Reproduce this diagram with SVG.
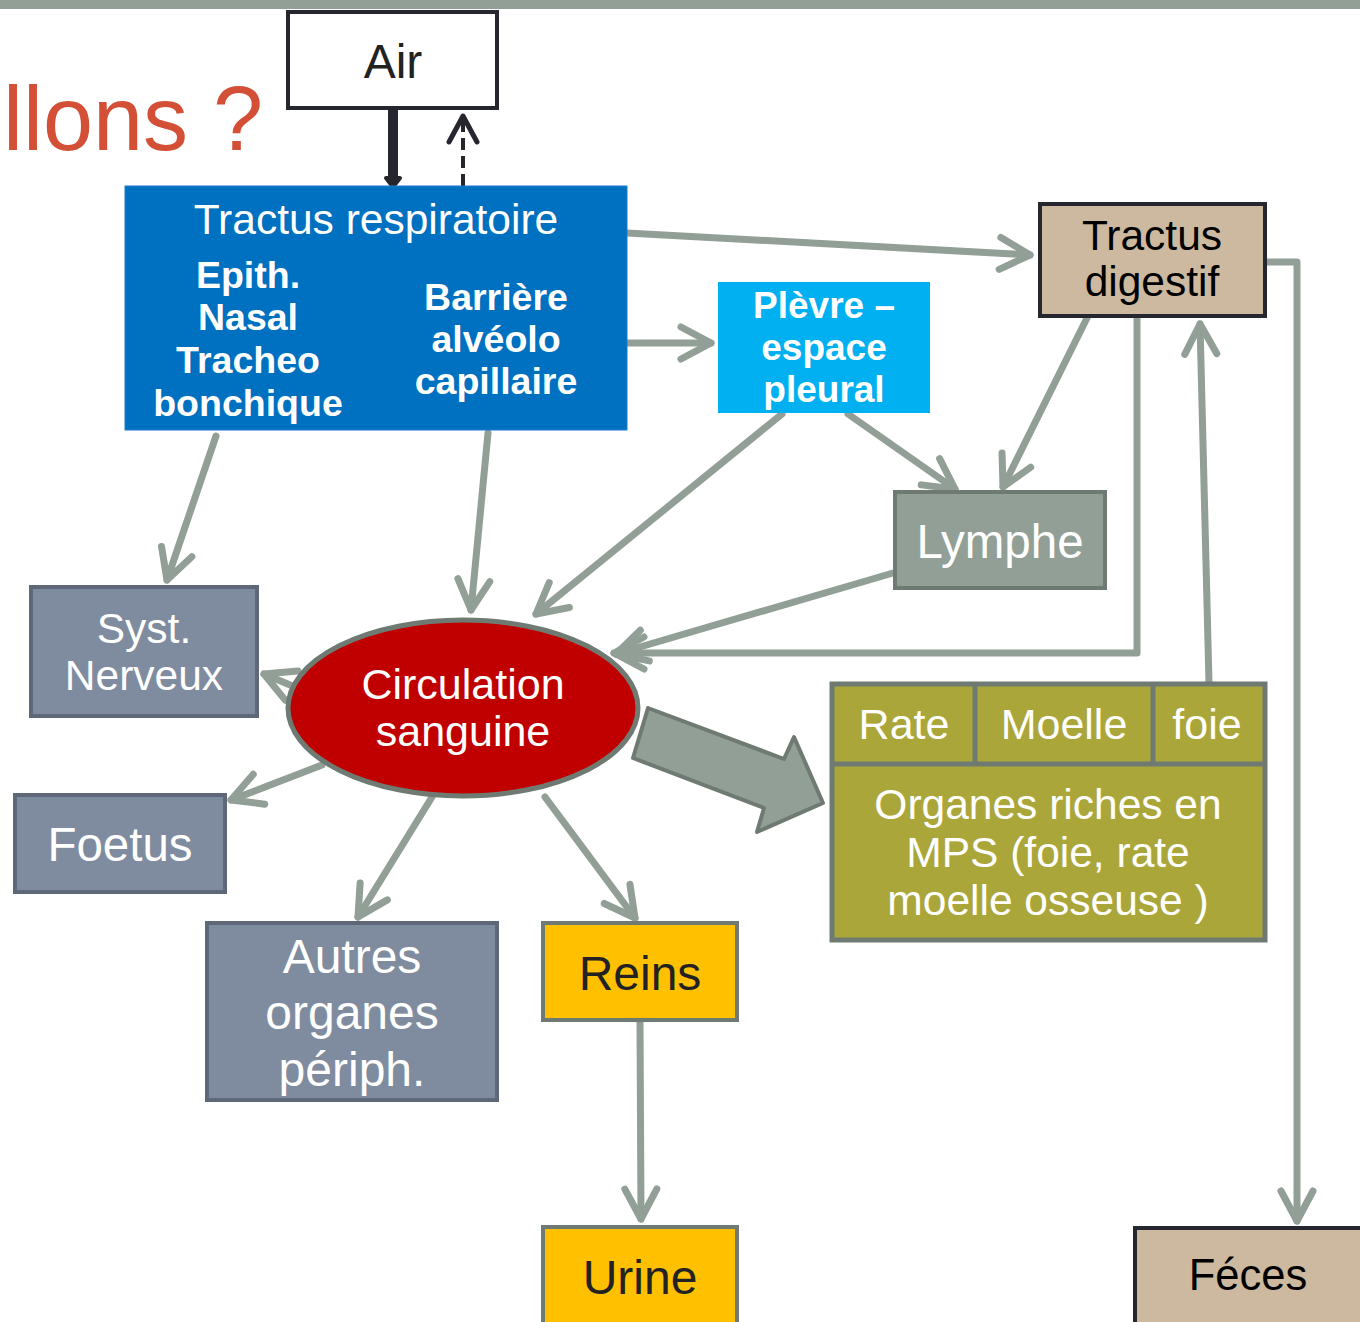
<svg xmlns="http://www.w3.org/2000/svg" width="1360" height="1322" viewBox="0 0 1360 1322">
<style>
text{font-family:"Liberation Sans",Arial,sans-serif;text-anchor:middle}
.w{fill:#fff}
.k{fill:#000}
.d{fill:#222}
.b{font-weight:bold}
.con{fill:none;stroke:#919F96;stroke-width:7;stroke-linecap:round;stroke-linejoin:round}
.gbox{stroke:#5F6878;stroke-width:4}
</style>
<defs>
<marker id="ah" markerUnits="userSpaceOnUse" markerWidth="60" markerHeight="60" refX="0" refY="0" viewBox="-40 -30 60 60" orient="auto" overflow="visible">
<path d="M-30,-16 L0,0 L-30,16" fill="none" stroke="#919F96" stroke-width="7" stroke-linecap="round" stroke-linejoin="round"/>
</marker>
<marker id="ahk" markerUnits="userSpaceOnUse" markerWidth="60" markerHeight="60" refX="0" refY="0" viewBox="-40 -30 60 60" orient="auto" overflow="visible">
<path d="M-26,-14 L0,0 L-26,14" fill="none" stroke="#26262e" stroke-width="5" stroke-linecap="round" stroke-linejoin="round"/>
</marker>
</defs>
<rect x="0" y="0" width="1360" height="9" fill="#919F96"/>
<text x="3" y="150" font-size="90" fill="#D35037" style="text-anchor:start">llons ?</text>

<g id="connectors">
<path class="con" d="M627,233 L1030,255" marker-end="url(#ah)"/>
<path class="con" d="M627,343 L711,343" marker-end="url(#ah)"/>
<path class="con" d="M216,436 L167,580" marker-end="url(#ah)"/>
<path class="con" d="M488,433 L471,610" marker-end="url(#ah)"/>
<path class="con" d="M782,414 L536,614" marker-end="url(#ah)"/>
<path class="con" d="M848,414 L955,489" marker-end="url(#ah)"/>
<path class="con" d="M1087,318 L1003,487" marker-end="url(#ah)"/>
<path class="con" d="M1137,300 L1137,653 L614,653" marker-end="url(#ah)"/>
<path class="con" d="M893,573 L616,654" marker-end="url(#ah)"/>
<path class="con" d="M1209,683 L1200,324" marker-end="url(#ah)"/>
<path class="con" d="M1266,262 L1297,262 L1297,1221" marker-end="url(#ah)"/>
<path class="con" d="M302,690 L264,674" marker-end="url(#ah)"/>
<path class="con" d="M322,765 L231,800" marker-end="url(#ah)"/>
<path class="con" d="M432,797 L358,917" marker-end="url(#ah)"/>
<path class="con" d="M545,797 L635,918" marker-end="url(#ah)"/>
<path class="con" d="M640,1022 L641,1219" marker-end="url(#ah)"/>
<path d="M393,108 L393,180" stroke="#26262e" stroke-width="10" fill="none"/>
<path d="M386,178 L393,187 L400,178 Z" fill="#26262e" stroke="#26262e" stroke-width="4" stroke-linejoin="round"/>
<path d="M463,186 L463,116" stroke="#26262e" stroke-width="4" stroke-dasharray="12,6" fill="none" marker-end="url(#ahk)"/>
<polygon points="648,708 784,759 794,737 823,803 757,832 764,808 633,758" fill="#919F96" stroke="#6E7A72" stroke-width="4" stroke-linejoin="round"/>
</g>

<g id="air">
<rect x="288" y="12" width="209" height="96" fill="#fff" stroke="#26262e" stroke-width="4"/>
<text x="393" y="78" font-size="48" class="d">Air</text>
</g>

<g id="tractus-respiratoire">
<rect x="125" y="186" width="502" height="244" fill="#0070C0" stroke="#1a7fcc" stroke-width="1"/>
<text x="376" y="234" font-size="42.5" class="w">Tractus respiratoire</text>
<text x="248" y="288" font-size="37.5" class="w b">Epith.</text>
<text x="248" y="330" font-size="37.5" class="w b">Nasal</text>
<text x="248" y="373" font-size="37.5" class="w b">Tracheo</text>
<text x="248" y="416" font-size="37.5" class="w b">bonchique</text>
<text x="496" y="310" font-size="37.5" class="w b">Barrière</text>
<text x="496" y="352" font-size="37.5" class="w b">alvéolo</text>
<text x="496" y="394" font-size="37.5" class="w b">capillaire</text>
</g>

<g id="plevre">
<rect x="718" y="282" width="212" height="131" fill="#00B0F0"/>
<text x="824" y="318" font-size="37" class="w b">Plèvre –</text>
<text x="824" y="360" font-size="37" class="w b">espace</text>
<text x="824" y="402" font-size="37" class="w b">pleural</text>
</g>

<g id="tractus-digestif">
<rect x="1040" y="204" width="225" height="112" fill="#CCB9A0" stroke="#26262e" stroke-width="4"/>
<text x="1152" y="250" font-size="42.5" class="k">Tractus</text>
<text x="1152" y="296" font-size="42.5" class="k">digestif</text>
</g>

<g id="lymphe">
<rect x="895" y="492" width="210" height="96" fill="#919F96" stroke="#6E7A72" stroke-width="4"/>
<text x="1000" y="558" font-size="47.5" class="w">Lymphe</text>
</g>

<g id="syst-nerveux">
<rect x="31" y="587" width="226" height="129" fill="#7F8B9E" class="gbox"/>
<text x="144" y="643" font-size="42.5" class="w">Syst.</text>
<text x="144" y="690" font-size="42.5" class="w">Nerveux</text>
</g>

<g id="foetus">
<rect x="15" y="795" width="210" height="97" fill="#7F8B9E" class="gbox"/>
<text x="120" y="861" font-size="47.5" class="w">Foetus</text>
</g>

<g id="circulation">
<ellipse cx="463" cy="708" rx="175" ry="88" fill="#C00000" stroke="#6E7A72" stroke-width="5"/>
<text x="463" y="699" font-size="43" class="w">Circulation</text>
<text x="463" y="746" font-size="43" class="w">sanguine</text>
</g>

<g id="autres-organes">
<rect x="207" y="923" width="290" height="177" fill="#7F8B9E" class="gbox"/>
<text x="352" y="973" font-size="48" class="w">Autres</text>
<text x="352" y="1029" font-size="48" class="w">organes</text>
<text x="352" y="1086" font-size="48" class="w">périph.</text>
</g>

<g id="reins">
<rect x="543" y="923" width="194" height="97" fill="#FFC000" stroke="#6E7A72" stroke-width="4"/>
<text x="640" y="990" font-size="48" class="d">Reins</text>
</g>

<g id="urine">
<rect x="543" y="1227" width="194" height="100" fill="#FFC000" stroke="#6E7A72" stroke-width="4"/>
<text x="640" y="1294" font-size="48" class="d">Urine</text>
</g>

<g id="feces">
<rect x="1135" y="1228" width="230" height="100" fill="#CCB9A0" stroke="#26262e" stroke-width="4"/>
<text x="1248" y="1290" font-size="43.5" class="k">Féces</text>
</g>

<g id="mps">
<rect x="832" y="684" width="433" height="256" fill="#ABA63A" stroke="#6E7A72" stroke-width="5"/>
<path d="M832,764 L1265,764 M975,684 L975,764 M1153,684 L1153,764" stroke="#6E7A72" stroke-width="5" fill="none"/>
<text x="904" y="739" font-size="43" class="w">Rate</text>
<text x="1064" y="739" font-size="43" class="w">Moelle</text>
<text x="1207" y="739" font-size="43" class="w">foie</text>
<text x="1048" y="819" font-size="42.5" class="w">Organes riches en</text>
<text x="1048" y="867" font-size="42.5" class="w">MPS (foie, rate</text>
<text x="1048" y="915" font-size="42.5" class="w">moelle osseuse )</text>
</g>
</svg>
